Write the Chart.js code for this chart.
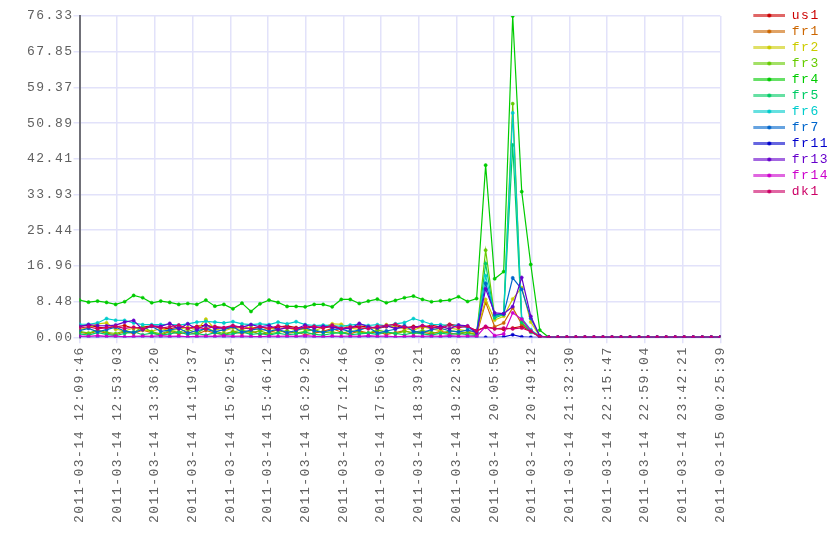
<!DOCTYPE html>
<html>
<head>
<meta charset="utf-8">
<script src="https://cdn.jsdelivr.net/npm/chart.js@4/dist/chart.umd.min.js"></script>
<style>
  html, body { margin: 0; padding: 0; background: #fff; }
  #wrap { position: absolute; left: 0; top: 0; width: 840px; height: 560px; }
</style>
</head>
<body>
<div id="wrap"><canvas id="traffic" width="840" height="560"></canvas></div>
<script>
/* traffic per site, 2011-03-14 12:09:46 .. 2011-03-15 00:25:39 */

const xTickLabels = [
    '2011-03-14 12:09:46', '2011-03-14 12:53:03', '2011-03-14 13:36:20', '2011-03-14 14:19:37',
    '2011-03-14 15:02:54', '2011-03-14 15:46:12', '2011-03-14 16:29:29', '2011-03-14 17:12:46',
    '2011-03-14 17:56:03', '2011-03-14 18:39:21', '2011-03-14 19:22:38', '2011-03-14 20:05:55',
    '2011-03-14 20:49:12', '2011-03-14 21:32:30', '2011-03-14 22:15:47', '2011-03-14 22:59:04',
    '2011-03-14 23:42:21', '2011-03-15 00:25:39'
];
const yTickLabels = ['0.00', '8.48', '16.96', '25.44', '33.93', '42.41', '50.89', '59.37', '67.85', '76.33'];
const yMax = 76.333;

// samples 52..71: everything idle
const quietTail = [0, 0, 0, 0, 0, 0, 0, 0, 0, 0, 0, 0, 0, 0, 0, 0, 0, 0, 0, 0];

const us1 = [
    2.6, 2.9, 2.4, 2.2, 2.5, 2.8, 2.1, 2.4, 2.7, 2.3,
    2.0, 2.5, 2.2, 2.6, 2.9, 2.4, 2.1, 2.3, 2.6, 2.2,
    2.5, 2.0, 2.4, 2.7, 2.3, 2.1, 2.5, 2.2, 2.6, 2.0,
    2.3, 2.7, 2.4, 2.1, 2.5, 2.8, 2.2, 2.6, 2.3, 2.9,
    2.4, 3.1, 2.7, 2.5, 1.6, 2.4, 2.1, 1.9, 2.2, 2.6,
    1.5, 0.2
].concat(quietTail);
const fr1 = [
    1.2, 0.8, 1.5, 1.0, 0.6, 1.3, 0.9, 1.7, 1.1, 0.5,
    1.4, 0.8, 1.2, 0.7, 1.6, 1.0, 0.6, 1.3, 0.9, 1.5,
    0.7, 1.1, 1.8, 0.9, 1.3, 0.6, 1.0, 1.4, 2.1, 1.2,
    0.8, 1.5, 1.0, 1.3, 0.7, 1.1, 1.6, 0.9, 1.2, 0.8,
    1.4, 1.0, 0.7, 1.2, 0.6, 8.3, 2.5, 3.4, 7.0, 3.1,
    1.6, 0.2
].concat(quietTail);
const fr2 = [
    1.8, 2.3, 3.2, 3.4, 1.9, 1.5, 2.2, 1.8, 1.4, 2.1,
    1.6, 1.9, 2.4, 1.7, 4.3, 2.0, 1.5, 2.2, 1.8, 2.5,
    1.6, 2.1, 1.9, 2.3, 1.7, 2.0, 1.5, 2.4, 3.2, 3.1,
    2.2, 1.8, 2.6, 1.9, 3.0, 2.3, 2.1, 1.7, 2.5, 2.0,
    1.6, 2.2, 1.8, 1.5, 1.0, 9.0, 4.1, 5.0, 9.1, 11.8,
    3.6, 0.2
].concat(quietTail);
const fr3 = [
    1.4, 1.0, 1.7, 1.2, 0.9, 1.5, 1.1, 2.5, 1.3, 0.8,
    1.6, 1.2, 1.9, 1.0, 2.2, 1.4, 0.9, 1.3, 1.7, 1.1,
    1.5, 0.8, 1.2, 1.6, 1.0, 1.4, 1.8, 1.1, 1.3, 0.9,
    1.5, 1.2, 1.0, 1.7, 1.3, 0.8, 1.4, 1.1, 1.6, 1.2,
    0.9, 1.5, 1.3, 1.0, 0.7, 20.7, 5.0, 5.6, 55.5, 4.0,
    1.5, 0.2
].concat(quietTail);
const fr4 = [
    8.83, 8.35, 8.6, 8.28, 7.8, 8.44, 9.94, 9.39, 8.2, 8.6,
    8.28, 7.8, 8.03, 7.8, 8.83, 7.4, 7.8, 6.76, 8.1, 6.12,
    7.95, 8.83, 8.28, 7.32, 7.32, 7.24, 7.8, 7.8, 7.24, 8.99,
    8.99, 8.03, 8.6, 9.07, 8.2, 8.75, 9.39, 9.79, 8.99, 8.44,
    8.67, 8.83, 9.63, 8.5, 9.2, 40.9, 13.9, 15.6, 76.333, 34.6,
    17.3, 1.7
].concat(quietTail);
const fr5 = [
    0.8, 0.5, 1.1, 0.7, 0.4, 0.9, 1.3, 0.6, 1.0, 0.5,
    0.8, 1.2, 0.7, 0.9, 0.5, 1.1, 0.6, 0.8, 1.3, 0.7,
    0.9, 0.5, 1.0, 0.6, 0.8, 1.2, 0.7, 0.5, 0.9, 1.1,
    0.6, 0.8, 1.0, 0.7, 1.3, 0.9, 0.6, 1.1, 0.8, 0.5,
    1.0, 0.7, 0.9, 0.6, 0.4, 17.5, 4.6, 5.4, 45.7, 3.5,
    1.2, 0.2
].concat(quietTail);
const fr6 = [
    3.1, 3.1, 3.4, 4.45, 4.05, 4.0, 3.4, 3.0, 3.0, 3.0,
    3.1, 2.9, 3.2, 3.6, 3.8, 3.6, 3.4, 3.7, 3.2, 3.0,
    3.2, 3.0, 3.6, 3.2, 3.7, 3.0, 2.8, 2.9, 2.8, 2.6,
    2.9, 3.1, 2.8, 3.0, 2.7, 3.2, 3.5, 4.45, 3.8, 3.1,
    3.0, 2.8, 2.9, 2.2, 1.4, 14.6, 5.2, 5.5, 53.3, 4.5,
    1.8, 0.2
].concat(quietTail);
const fr7 = [
    1.6, 2.1, 1.3, 1.8, 2.4, 1.5, 1.1, 1.9, 2.6, 1.4,
    1.7, 2.2, 1.0, 1.6, 2.0, 1.3, 1.8, 2.5, 1.2, 1.7,
    2.1, 1.4, 1.9, 1.1, 1.6, 2.3, 1.5, 1.2, 1.8, 2.0,
    1.3, 1.7, 2.4, 1.0, 1.5, 1.9, 2.8, 1.4, 1.1, 1.8,
    2.2, 1.5, 1.3, 1.7, 1.2, 12.8, 5.3, 5.5, 14.1, 11.4,
    4.5, 0.3
].concat(quietTail);
const fr11 = [
    0.1, 0, 0, 0.1, 0, 0, 0, 0.1, 0, 0,
    0, 0.1, 0, 0, 0, 0.1, 0, 0, 0, 0,
    0.1, 0, 0, 0, 0.1, 0, 0, 0, 0.1, 0,
    0, 0, 0.1, 0, 0, 0, 0, 0.1, 0, 0,
    0, 0.1, 0, 0, 0, 0, 0, 0.1, 0.6, 0.1,
    0, 0
].concat(quietTail);
const fr13 = [
    2.6, 3.0, 2.8, 2.7, 2.9, 3.6, 4.0, 1.8, 2.7, 2.6,
    3.3, 2.0, 3.2, 1.9, 2.9, 2.1, 2.2, 2.7, 2.4, 3.0,
    2.5, 2.8, 1.8, 2.3, 2.0, 2.9, 2.2, 2.6, 2.4, 2.0,
    2.1, 3.3, 2.5, 2.2, 2.7, 2.1, 2.4, 2.3, 2.8, 2.2,
    2.6, 2.0, 2.9, 2.7, 1.0, 11.5, 5.8, 5.6, 7.3, 14.2,
    5.0, 0.3
].concat(quietTail);
const fr14 = [
    0.3, 0.2, 0.4, 0.2, 0.3, 0.1, 0.2, 0.3, 0.2, 0.4,
    0.2, 0.3, 0.1, 0.2, 0.3, 0.2, 0.4, 0.2, 0.3, 0.2,
    0.1, 0.3, 0.2, 0.3, 0.2, 0.4, 0.2, 0.1, 0.3, 0.2,
    0.3, 0.2, 0.4, 0.2, 0.3, 0.1, 0.2, 0.3, 0.2, 0.3,
    0.2, 0.4, 0.2, 0.3, 0.2, 2.6, 0.4, 0.8, 5.8, 4.3,
    1.5, 0.1
].concat(quietTail);
const dk1 = [
    2.2, 2.5, 2.0, 2.3, 2.6, 2.1, 2.4, 2.0, 2.7, 2.2,
    2.5, 2.9, 2.1, 2.4, 2.0, 2.6, 2.3, 2.8, 2.2, 2.0,
    2.5, 2.1, 2.7, 2.3, 2.0, 2.4, 2.6, 2.2, 2.9, 2.1,
    2.5, 2.3, 2.0, 2.6, 2.8, 3.1, 2.4, 2.2, 2.7, 2.5,
    2.1, 2.9, 2.3, 2.6, 1.5, 2.5, 2.0, 2.2, 2.0, 2.2,
    1.4, 0.1
].concat(quietTail);

const seriesNames = ['us1', 'fr1', 'fr2', 'fr3', 'fr4', 'fr5', 'fr6', 'fr7', 'fr11', 'fr13', 'fr14', 'dk1'];
const seriesValues = [us1, fr1, fr2, fr3, fr4, fr5, fr6, fr7, fr11, fr13, fr14, dk1];
const seriesColors = ['#cc0000', '#cc6600', '#cccc00', '#66cc00', '#00cc00', '#00cc66',
                      '#00cccc', '#0066cc', '#0000cc', '#6600cc', '#cc00cc', '#cc0066'];

const sampleIndex = us1.map((_, i) => i);
const FONT = { family: '"Liberation Mono", "DejaVu Sans Mono", monospace', size: 13 };
const SPACING = '1.5px';
const TEXT = '#606060';

// legend icon: short translucent line with a dot, shifted right inside the box
function legendIcon(color) {
    const c = document.createElement('canvas');
    c.width = 62; c.height = 7;
    const g = c.getContext('2d');
    g.globalAlpha = 0.6;
    g.strokeStyle = color; g.lineWidth = 3;
    g.beginPath(); g.moveTo(30, 3.5); g.lineTo(62, 3.5); g.stroke();
    g.globalAlpha = 1;
    g.fillStyle = color;
    g.beginPath(); g.arc(46, 3.5, 2, 0, Math.PI * 2); g.fill();
    return c;
}

const letterSpacing = {
    id: 'letterSpacing',
    beforeLayout(chart) { chart.ctx.letterSpacing = SPACING; },
    beforeDraw(chart) { chart.ctx.letterSpacing = SPACING; }
};

const datasets = seriesNames.map((name, i) => ({
    label: name,
    data: seriesValues[i],
    borderColor: seriesColors[i],
    backgroundColor: seriesColors[i],
    borderWidth: 1.2,
    pointRadius: 1.6,
    pointBorderWidth: 0.5,
    pointHoverRadius: 2,
    tension: 0,
    fill: false,
    order: seriesNames.length - i
}));

new Chart(document.getElementById('traffic'), {
    type: 'line',
    data: { labels: sampleIndex, datasets },
    plugins: [letterSpacing],
    options: {
        responsive: false,
        animation: false,
        layout: { padding: { top: 6, left: 27, right: 1, bottom: 34 } },
        plugins: {
            tooltip: { enabled: false },
            legend: {
                position: 'right',
                align: 'start',
                labels: {
                    usePointStyle: true,
                    pointStyleWidth: 62,
                    padding: 3,
                    font: FONT,
                    generateLabels: (chart) => chart.data.datasets.map((ds, i) => ({
                        text: ds.label,
                        fontColor: seriesColors[i],
                        fillStyle: seriesColors[i],
                        strokeStyle: seriesColors[i],
                        lineWidth: 0,
                        pointStyle: legendIcon(seriesColors[i]),
                        hidden: false,
                        datasetIndex: i
                    }))
                }
            }
        },
        scales: {
            x: {
                type: 'linear',
                min: 0,
                max: sampleIndex.length - 1,
                afterBuildTicks: (scale) => {
                    const step = (sampleIndex.length - 1) / (xTickLabels.length - 1);
                    scale.ticks = xTickLabels.map((_, k) => ({ value: k * step }));
                },
                ticks: {
                    autoSkip: false,
                    minRotation: 90,
                    maxRotation: 90,
                    padding: 3,
                    color: TEXT,
                    font: FONT,
                    callback: (v, i) => xTickLabels[i]
                },
                grid: { color: '#e2e2fa', lineWidth: 1.5, tickLength: 6 },
                border: { display: false }
            },
            y: {
                min: 0,
                max: yMax,
                afterBuildTicks: (scale) => {
                    scale.ticks = yTickLabels.map((_, k) => ({ value: k * yMax / (yTickLabels.length - 1) }));
                },
                afterFit: (scale) => { scale.paddingTop = 16; },
                ticks: {
                    padding: 0,
                    color: TEXT,
                    font: FONT,
                    callback: (v, i) => yTickLabels[i]
                },
                grid: { color: '#e2e2fa', lineWidth: 1.5, tickLength: 6 },
                border: { display: true, color: '#707078', width: 2 }
            }
        }
    }
});
</script>
</body>
</html>
